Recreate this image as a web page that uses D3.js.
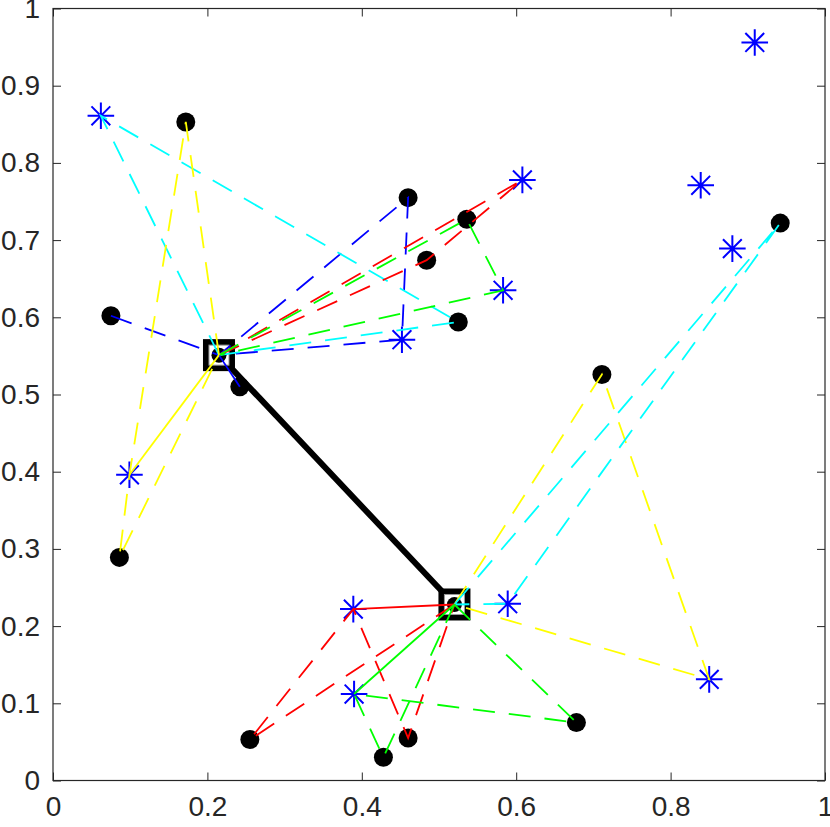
<!DOCTYPE html>
<html><head><meta charset="utf-8">
<script src="https://cdn.jsdelivr.net/npm/d3@7"></script>
<style>body{margin:0;background:#fff}svg{display:block}</style>
</head><body>
<script>
// ---- data ----
const hubNames = ['H1', 'H2'];
const hubX = [0.215, 0.520];
const hubY = [0.551, 0.228];

const starNames = ['S1','S2','S3','S4','S5','S6','S7','S8','S9','S10','S11','S12'];
const starX = [0.062, 0.909, 0.608, 0.583, 0.452, 0.839, 0.880, 0.099, 0.389, 0.589, 0.850, 0.390];
const starY = [0.861, 0.956, 0.778, 0.635, 0.571, 0.771, 0.689, 0.396, 0.222, 0.229, 0.131, 0.112];

const dotNames = ['D1','D2','D3','D4','D5','D6','D7','D8','D9','D10','D11','D12','D13','D14'];
const dotX = [0.172, 0.460, 0.536, 0.484, 0.075, 0.525, 0.242, 0.942, 0.711, 0.086, 0.678, 0.255, 0.460, 0.428];
const dotY = [0.853, 0.755, 0.727, 0.674, 0.602, 0.594, 0.510, 0.722, 0.526, 0.289, 0.075, 0.053, 0.055, 0.030];

// dashed routes
const routeColors = ['#0000ff', '#00ffff', '#ff0000', '#00ff00', '#ffff00', '#ffff00', '#00ffff', '#ff0000', '#00ff00'];
const routeStops = [
  ['D5', 'H1', 'D2', 'S5', 'H1'],
  ['H1', 'S1', 'D6', 'H1'],
  ['H1', 'D4', 'S3', 'H1'],
  ['H1', 'D3', 'S4', 'H1'],
  ['H1', 'D1', 'S8', 'D10', 'H1'],
  ['H2', 'D9', 'S11', 'H2'],
  ['H2', 'D8', 'S10', 'H2'],
  ['H2', 'D12', 'S9', 'D13', 'H2'],
  ['H2', 'D11', 'S12', 'D14', 'H2']
];
// solid links
const linkColors = ['#0000ff', '#ffff00', '#ff0000', '#00ff00'];
const linkStops = [['H1', 'D7'], ['H1', 'S8'], ['H2', 'S9'], ['H2', 'S12']];

const xTicks = [0, 0.2, 0.4, 0.6, 0.8, 1];
const xTickLabels = ['0', '0.2', '0.4', '0.6', '0.8', '1'];
const yTicks = [0, 0.1, 0.2, 0.3, 0.4, 0.5, 0.6, 0.7, 0.8, 0.9, 1];
const yTickLabels = ['0', '0.1', '0.2', '0.3', '0.4', '0.5', '0.6', '0.7', '0.8', '0.9', '1'];

// ---- lookup ----
const pts = {};
hubNames.forEach((n, i) => pts[n] = [hubX[i], hubY[i]]);
starNames.forEach((n, i) => pts[n] = [starX[i], starY[i]]);
dotNames.forEach((n, i) => pts[n] = [dotX[i], dotY[i]]);

const W = 830, H = 827;
const L = 53, R = 825, T = 8.5, B = 780.5;
const x = d3.scaleLinear().domain([0, 1]).range([L, R]);
const y = d3.scaleLinear().domain([0, 1]).range([B, T]);

const svg = d3.select('body').append('svg').attr('width', W).attr('height', H)
  .style('font-family', '"Liberation Sans", Arial, Helvetica, sans-serif');
svg.append('rect').attr('width', W).attr('height', H).attr('fill', '#fff');

const axisColor = '#262626';
function styleAxis(g, labels) {
  g.select('.domain').remove();
  g.selectAll('.tick line').attr('stroke', axisColor).attr('stroke-width', 1);
  g.selectAll('.tick text').attr('fill', axisColor).style('font-size', '28px');
  if (!labels) g.selectAll('.tick text').remove();
}
svg.append('g').attr('transform', `translate(0,${B})`)
  .call(d3.axisBottom(x).tickValues(xTicks).tickFormat((d, i) => xTickLabels[i]).tickSize(-8).tickPadding(16))
  .call(g => styleAxis(g, true));
svg.append('g').attr('transform', `translate(0,${T})`)
  .call(d3.axisTop(x).tickValues(xTicks).tickSize(-8))
  .call(g => styleAxis(g, false));
svg.append('g').attr('transform', `translate(${L},0)`)
  .call(d3.axisLeft(y).tickValues(yTicks).tickFormat((d, i) => yTickLabels[i]).tickSize(-8).tickPadding(13))
  .call(g => styleAxis(g, true));
svg.append('g').attr('transform', `translate(${R},0)`)
  .call(d3.axisRight(y).tickValues(yTicks).tickSize(-8))
  .call(g => styleAxis(g, false));
svg.append('rect').attr('x', L).attr('y', T).attr('width', R - L).attr('height', B - T)
  .attr('fill', 'none').attr('stroke', axisColor).attr('stroke-width', 1.2);

const line = d3.line().x(d => x(pts[d][0])).y(d => y(pts[d][1]));

// hub-to-hub link
svg.append('path').attr('d', line(hubNames)).attr('stroke', '#000').attr('stroke-width', 6)
  .attr('fill', 'none');

// dots
svg.append('g').selectAll('circle').data(dotNames).join('circle')
  .attr('cx', d => x(pts[d][0])).attr('cy', d => y(pts[d][1])).attr('r', 9.5).attr('fill', '#000');

// stars
const sr = 13.3, sd = sr * Math.SQRT1_2;
const starPath = `M${-sr},0H${sr}M0,${-sr}V${sr}M${-sd},${-sd}L${sd},${sd}M${-sd},${sd}L${sd},${-sd}`;
svg.append('g').selectAll('path').data(starNames).join('path')
  .attr('transform', d => `translate(${x(pts[d][0])},${y(pts[d][1])})`)
  .attr('d', starPath).attr('stroke', '#0000ff').attr('stroke-width', 2).attr('fill', 'none');

// hubs
const hubs = svg.append('g').selectAll('g').data(hubNames).join('g')
  .attr('transform', d => `translate(${x(pts[d][0])},${y(pts[d][1])})`);
hubs.append('rect').attr('x', -16).attr('y', -16).attr('width', 32).attr('height', 32).attr('fill', '#000');
hubs.append('rect').attr('x', -10).attr('y', -10).attr('width', 20).attr('height', 20)
  .attr('fill', '#fff').attr('stroke', '#9a9a9a').attr('stroke-width', 1);
hubs.append('circle').attr('r', 7.5).attr('fill', '#000');

// dashed routes
svg.append('g').selectAll('path').data(routeStops).join('path')
  .attr('d', d => line(d)).attr('fill', 'none')
  .attr('stroke', (d, i) => routeColors[i]).attr('stroke-width', 1.8)
  .attr('stroke-dasharray', '22,14');

// solid links
svg.append('g').selectAll('path').data(linkStops).join('path')
  .attr('d', d => line(d)).attr('fill', 'none')
  .attr('stroke', (d, i) => linkColors[i]).attr('stroke-width', 1.8);
</script>
</body></html>
